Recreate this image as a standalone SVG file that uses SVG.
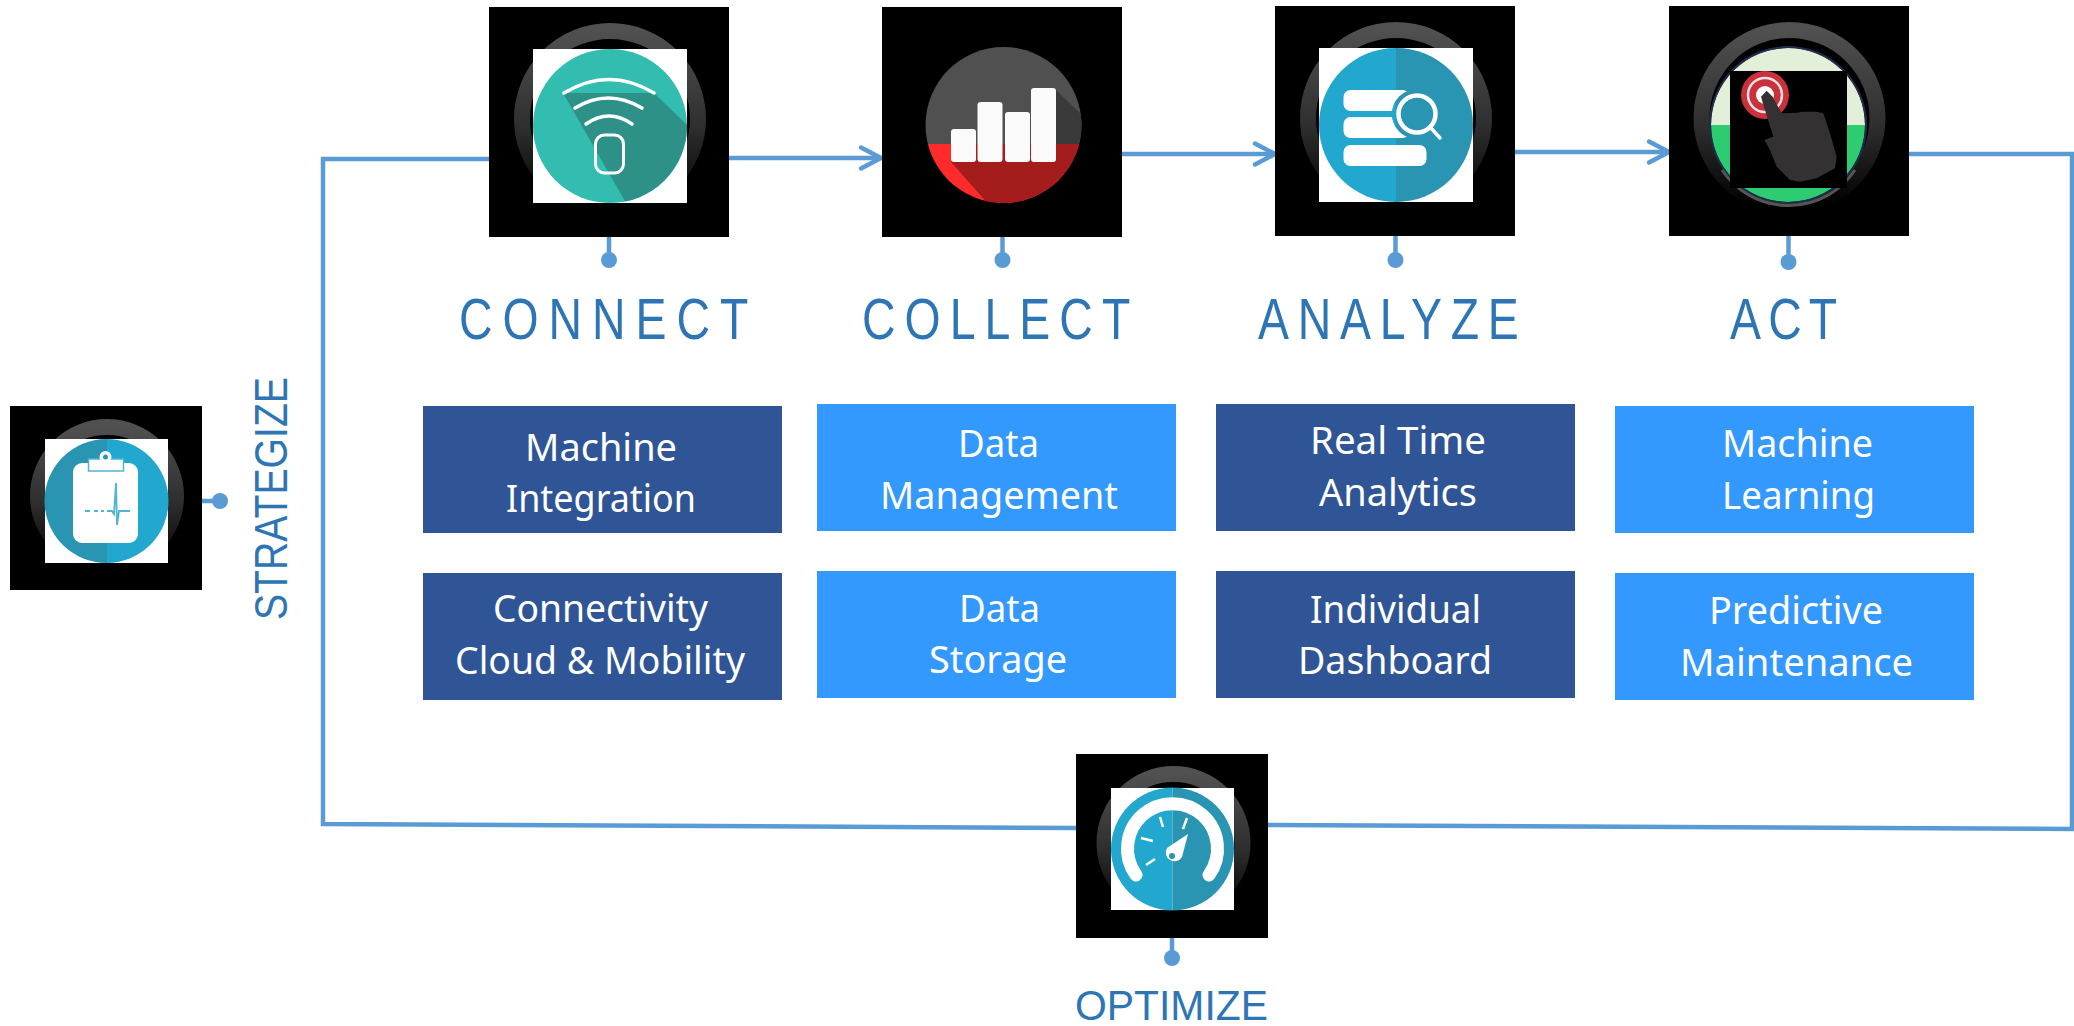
<svg xmlns="http://www.w3.org/2000/svg" width="2074" height="1026" viewBox="0 0 2074 1026">
<style>
.bk{fill:#000}
.wh{fill:#fff}
.ring{fill:none;stroke:url(#ringG);stroke-width:16}
.ln{fill:none;stroke:#5b9bd5;stroke-width:4.500}
.dot{fill:#5b9bd5}
.dk{fill:#2f5597}
.lt{fill:#3399ff}
.bt{font-family:"Noto Sans","Liberation Sans",sans-serif;font-size:38px;fill:#fff}
.hd{font-family:"Liberation Sans",Arial,sans-serif;font-size:58px;fill:#2e75b6}
.sd{font-family:"Liberation Sans",Arial,sans-serif;fill:#2e75b6}
.w3{fill:none;stroke:#fff;stroke-width:3.500;stroke-linecap:round}
</style>
<defs>
<linearGradient id="ringG" x1="0" y1="0" x2="0" y2="1"><stop offset="0" stop-color="#505050"/><stop offset=".55" stop-color="#2e2e2e"/><stop offset="1" stop-color="#000"/></linearGradient>
<marker id="arr" markerUnits="userSpaceOnUse" markerWidth="30" markerHeight="30" refX="26" refY="15" orient="auto" viewBox="0 0 30 30"><path d="M6,4.500 L26,15 L6,25.500" fill="none" stroke="#5b9bd5" stroke-width="4.500" stroke-linecap="round" stroke-linejoin="round"/></marker>
<clipPath id="cConnect"><circle cx="610" cy="126" r="77"/></clipPath>
<clipPath id="cCollect"><circle cx="1003.500" cy="125" r="78"/></clipPath>
<clipPath id="cAnalyze"><circle cx="1396" cy="125" r="77"/></clipPath>
<clipPath id="cAct"><rect x="1730" y="71" width="117" height="117"/></clipPath>
<clipPath id="cStrat"><circle cx="106.500" cy="501" r="62"/></clipPath>
<clipPath id="cOpt"><circle cx="1172.500" cy="849" r="61.500"/></clipPath>
<clipPath id="cLeftA"><rect x="1360" y="80" width="36" height="70"/></clipPath>
</defs>
<rect width="2074" height="1026" fill="#fff"/>

<g id="connectors">
<path class="ln" d="M1076,828 L323,824 L323,159 L489,159"/>
<path class="ln" d="M1909,154 L2072,154 L2072,829 L1268,825"/>
<path class="ln" marker-end="url(#arr)" d="M729,158 L881,158"/>
<path class="ln" marker-end="url(#arr)" d="M1122,154 L1275,154"/>
<path class="ln" marker-end="url(#arr)" d="M1515,152 L1669,152"/>
<path class="ln" d="M202,501 L220,501"/><circle class="dot" cx="220" cy="501" r="8"/>
<path class="ln" d="M609,237 L609,260"/><circle class="dot" cx="609" cy="260" r="8"/>
<path class="ln" d="M1002.500,237 L1002.500,260"/><circle class="dot" cx="1002.500" cy="260" r="8"/>
<path class="ln" d="M1395.500,236 L1395.500,260"/><circle class="dot" cx="1395.500" cy="260" r="8"/>
<path class="ln" d="M1788.500,236 L1788.500,262"/><circle class="dot" cx="1788.500" cy="262" r="8"/>
<path class="ln" d="M1172,938 L1172,958"/><circle class="dot" cx="1172" cy="958" r="8"/>
</g>

<g id="node-strategize">
<rect class="bk" x="10" y="406" width="192" height="184"/>
<circle class="ring" cx="107" cy="496" r="69"/>
<rect class="wh" x="45" y="439" width="123" height="124"/>
<g clip-path="url(#cStrat)">
<rect x="44" y="439" width="63" height="124" fill="#2a94b3"/>
<rect x="107" y="439" width="63" height="124" fill="#22a7cf"/>
</g>
<rect class="wh" x="73" y="463" width="65" height="80" rx="9"/>
<rect x="88.500" y="459" width="35" height="12" fill="#fff" stroke="#4fb4d6" stroke-width="1.500"/>
<circle class="wh" cx="105.500" cy="457" r="6"/><circle cx="105.500" cy="457" r="2.500" fill="#2a94b3"/>
<path d="M85,511 L90,511 M94,511 L98,511 M101,511 L104,511 M107,511 L112,511 L114,514 L116,483 L117,525 L119,511 L130,511" fill="none" stroke="#4fb4d6" stroke-width="1.800"/>
<text class="sd" transform="translate(287,620) rotate(-90)" font-size="47" textLength="243" lengthAdjust="spacingAndGlyphs">STRATEGIZE</text>
</g>

<g id="node-connect">
<rect class="bk" x="489" y="7" width="240" height="230"/>
<circle class="ring" cx="610" cy="119" r="88"/>
<rect class="wh" x="533" y="49" width="154" height="154"/>
<g clip-path="url(#cConnect)">
<rect x="530" y="45" width="160" height="165" fill="#32bdb0"/>
<path d="M563,93 L654,93 L690,128 L690,210 L630,210 Z" fill="#2e9188"/>
</g>
<path class="w3" d="M564,93 Q609,66 654,93"/>
<path class="w3" d="M575,108 Q608,88 642,108"/>
<path class="w3" d="M586,124 Q609,108 632,124"/>
<rect x="595.500" y="135" width="28" height="38" rx="9" fill="none" stroke="#fff" stroke-width="3"/>
<text class="hd" transform="translate(459,339) scale(.8,1)" letter-spacing="12.500">CONNECT</text>
</g>

<g id="node-collect">
<rect class="bk" x="882" y="7" width="240" height="230"/>
<g clip-path="url(#cCollect)">
<rect x="920" y="44" width="170" height="100" fill="#505050"/>
<rect x="920" y="144" width="170" height="62" fill="#ff2a2a"/>
<path d="M1056,90 L1085,118 L1085,144 L1050,144 Z" fill="#3a3a3a"/>
<path d="M951,144 L1085,144 L1085,206 L990,206 L951,162 Z" fill="#a51c1c"/>
</g>
<rect x="951" y="129" width="25" height="33" rx="3" fill="#fafafa"/>
<rect x="977.500" y="102" width="25" height="60" rx="3" fill="#fafafa"/>
<rect x="1005" y="112" width="25" height="50" rx="3" fill="#fafafa"/>
<rect x="1031" y="88" width="25" height="74" rx="3" fill="#fafafa"/>
<text class="hd" transform="translate(862,339) scale(.8,1)" letter-spacing="11.300">COLLECT</text>
</g>

<g id="node-analyze">
<rect class="bk" x="1275" y="6" width="240" height="230"/>
<circle class="ring" cx="1396" cy="118" r="88"/>
<rect class="wh" x="1319" y="48" width="154" height="154"/>
<g clip-path="url(#cAnalyze)">
<rect x="1315" y="44" width="81" height="165" fill="#22a7cf"/>
<rect x="1396" y="44" width="81" height="165" fill="#2a94b3"/>
</g>
<rect class="wh" x="1343.500" y="90" width="66" height="21" rx="7"/>
<rect class="wh" x="1343.500" y="117" width="66" height="21" rx="7"/>
<rect class="wh" x="1343.500" y="145" width="83" height="21" rx="7"/>
<circle cx="1417" cy="114" r="25" fill="#2a94b3"/>
<circle cx="1417" cy="114" r="25" fill="#22a7cf" clip-path="url(#cLeftA)"/>
<circle cx="1417" cy="114" r="18.500" fill="#2a94b3" stroke="#fff" stroke-width="4.500"/>
<path d="M1430,127 L1440,138" class="w3"/>
<text class="hd" transform="translate(1258,339) scale(.8,1)" letter-spacing="11">ANALYZE</text>
</g>

<g id="node-act">
<rect class="bk" x="1669" y="6" width="240" height="230"/>
<circle class="ring" cx="1789.500" cy="118" r="88"/>
<path d="M1711,125 A77,77 0 0 1 1865,125 Z" fill="#e2efd9"/>
<path d="M1711,125 A77,77 0 0 0 1865,125 Z" fill="#2ecc71"/>
<circle cx="1788" cy="125" r="78" fill="none" stroke="#1f2d4d" stroke-width="2"/>
<path d="M1722,170 A80,80 0 0 0 1855,170" fill="none" stroke="#555" stroke-width="3"/>
<rect class="bk" x="1730" y="71" width="117" height="117"/>
<g clip-path="url(#cAct)">
<circle cx="1765" cy="95" r="24" fill="#c9313c"/>
<circle cx="1765" cy="95" r="17" fill="none" stroke="#f0e0e0" stroke-width="2.500"/>
<circle cx="1765" cy="95" r="9" fill="#fff"/>
<path transform="translate(1660,0) scale(.3333)" d="M303,290 L320,272 L338,290 L365,340 L410,338 L430,335 L470,335 L490,340 L510,400 L530,470 L525,505 L470,535 L420,545 L390,540 L350,500 L330,450 L313,420 L340,410 L318,340 Z" fill="#333132"/>
</g>
<text class="hd" transform="translate(1730,339) scale(.8,1)" letter-spacing="9">ACT</text>
</g>

<g id="node-optimize">
<rect class="bk" x="1076" y="754" width="192" height="184"/>
<circle class="ring" cx="1173.500" cy="843" r="69"/>
<rect class="wh" x="1111" y="788" width="123" height="122"/>
<g clip-path="url(#cOpt)">
<rect x="1110" y="786" width="62.500" height="126" fill="#22a7cf"/>
<rect x="1172.500" y="786" width="63" height="126" fill="#2a94b3"/>
</g>
<path d="M1136,875 A45,45 0 1 1 1209,875" fill="none" stroke="#fff" stroke-width="13" stroke-linecap="round"/>
<path d="M1160,817 L1163,827 M1141,838 L1153,841 M1146,865 L1155,859 M1187,818 L1183,829" fill="none" stroke="#fff" stroke-width="2.500"/>
<path d="M1188,834 L1182,857 A8.500,8.500 0 1 1 1167,848 Z" fill="#fff"/>
<circle cx="1172" cy="856" r="3" fill="#2a94b3"/>
<text class="sd" x="1075" y="1020" font-size="43" textLength="193" lengthAdjust="spacingAndGlyphs">OPTIMIZE</text>
</g>

<g id="box-machine-integration"><rect class="dk" x="423" y="406" width="359" height="127"/>
<text class="bt" x="525" y="461" textLength="152" lengthAdjust="spacingAndGlyphs">Machine</text>
<text class="bt" x="506" y="512" textLength="190" lengthAdjust="spacingAndGlyphs">Integration</text></g>
<g id="box-connectivity"><rect class="dk" x="423" y="573" width="359" height="127"/>
<text class="bt" x="493" y="622" textLength="215" lengthAdjust="spacingAndGlyphs">Connectivity</text>
<text class="bt" x="455" y="674" textLength="290" lengthAdjust="spacingAndGlyphs">Cloud &amp; Mobility</text></g>
<g id="box-data-management"><rect class="lt" x="817" y="404" width="359" height="127"/>
<text class="bt" x="958" y="457" textLength="81" lengthAdjust="spacingAndGlyphs">Data</text>
<text class="bt" x="880" y="509" textLength="238" lengthAdjust="spacingAndGlyphs">Management</text></g>
<g id="box-data-storage"><rect class="lt" x="817" y="571" width="359" height="127"/>
<text class="bt" x="959" y="622" textLength="81" lengthAdjust="spacingAndGlyphs">Data</text>
<text class="bt" x="929" y="673" textLength="138" lengthAdjust="spacingAndGlyphs">Storage</text></g>
<g id="box-real-time"><rect class="dk" x="1216" y="404" width="359" height="127"/>
<text class="bt" x="1310" y="454" textLength="176" lengthAdjust="spacingAndGlyphs">Real Time</text>
<text class="bt" x="1319" y="506" textLength="158" lengthAdjust="spacingAndGlyphs">Analytics</text></g>
<g id="box-dashboard"><rect class="dk" x="1216" y="571" width="359" height="127"/>
<text class="bt" x="1310" y="623" textLength="171" lengthAdjust="spacingAndGlyphs">Individual</text>
<text class="bt" x="1298" y="674" textLength="194" lengthAdjust="spacingAndGlyphs">Dashboard</text></g>
<g id="box-machine-learning"><rect class="lt" x="1615" y="406" width="359" height="127"/>
<text class="bt" x="1722" y="457" textLength="151" lengthAdjust="spacingAndGlyphs">Machine</text>
<text class="bt" x="1722" y="509" textLength="153" lengthAdjust="spacingAndGlyphs">Learning</text></g>
<g id="box-predictive"><rect class="lt" x="1615" y="573" width="359" height="127"/>
<text class="bt" x="1709" y="624" textLength="174" lengthAdjust="spacingAndGlyphs">Predictive</text>
<text class="bt" x="1680" y="676" textLength="233" lengthAdjust="spacingAndGlyphs">Maintenance</text></g>
</svg>
